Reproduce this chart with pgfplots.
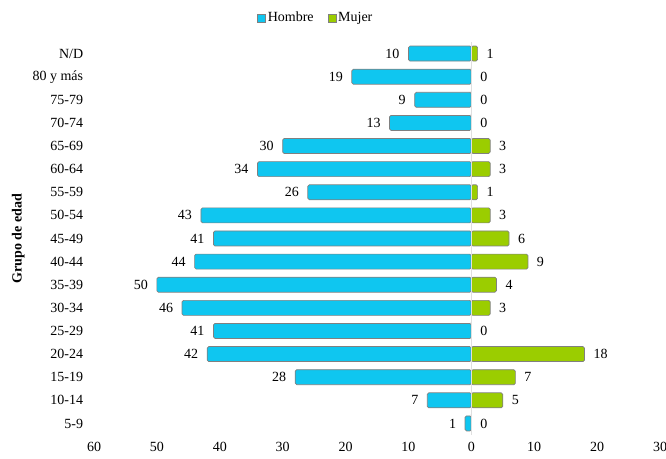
\documentclass[border=0pt]{standalone}
\usepackage{pgfplots}
\pgfplotsset{compat=1.18}
\usepackage{fontspec}
\setmainfont{Liberation Serif}
\definecolor{hcol}{RGB}{15,198,240}
\definecolor{mcol}{RGB}{155,205,0}
\begin{document}
\fontsize{14bp}{16bp}\selectfont
\begin{tikzpicture}
\useasboundingbox (0,0) rectangle (666bp,459bp);
\begin{axis}[
  at={(94bp,24bp)}, anchor=south west,
  scale only axis, width=566bp, height=393bp,
  xbar, bar width=15bp, bar shift=0pt,
  xmin=-60, xmax=30, ymin=-0.5, ymax=16.5,
  xtick={-60,-50,-40,-30,-20,-10,0,10,20,30},
  xticklabel={\pgfmathparse{abs(\tick)}\pgfmathprintnumber{\pgfmathresult}},
  ytick={0,...,16},
  yticklabels={5-9,10-14,15-19,20-24,25-29,30-34,35-39,40-44,45-49,50-54,55-59,60-64,65-69,70-74,75-79,80 y más,N/D},
  /pgf/number format/assume math mode=true,
  axis line style={draw=none}, major tick length=0pt,
  tick label style={font=\fontsize{14bp}{16bp}\selectfont},
  yticklabel style={xshift=-6bp},
  xticklabel style={yshift=-2bp},
  ylabel={\textbf{Grupo de edad}},
  ylabel style={at={(axis description cs:-0.134,0.5)}, anchor=center, font=\fontsize{14bp}{16bp}\selectfont},
  legend style={at={(axis description cs:0.392,1.061)}, anchor=center, draw=none, legend columns=2,
    font=\fontsize{14bp}{16bp}\selectfont, /tikz/every even column/.append style={column sep=12bp}},
  legend image code/.code={\fill[#1, sharp corners, line width=0.5pt] (0bp,-4bp) rectangle (8bp,4bp);},
  nodes near coords,
  point meta=explicit,
  nodes near coords style={font=\fontsize{14bp}{16bp}\selectfont},
  clip=false,
]
\addplot[fill=hcol, draw=black!50, line width=0.7pt, rounded corners=1.5bp,
  nodes near coords style={anchor=east, xshift=-4bp}]
  table[x=x, y=y, meta=v] {
  y x v
  0 -1 1
  1 -7 7
  2 -28 28
  3 -42 42
  4 -41 41
  5 -46 46
  6 -50 50
  7 -44 44
  8 -41 41
  9 -43 43
  10 -26 26
  11 -34 34
  12 -30 30
  13 -13 13
  14 -9 9
  15 -19 19
  16 -10 10
  };
\addlegendentry{Hombre}
\addplot[fill=mcol, draw=black!50, line width=0.7pt, rounded corners=1.5bp,
  nodes near coords style={anchor=west, xshift=4bp}]
  table[x=x, y=y, meta=v] {
  y x v
  0 0 0
  1 5 5
  2 7 7
  3 18 18
  4 0 0
  5 3 3
  6 4 4
  7 9 9
  8 6 6
  9 3 3
  10 1 1
  11 3 3
  12 3 3
  13 0 0
  14 0 0
  15 0 0
  16 1 1
  };
\addlegendentry{Mujer}
\draw[gray!25, line width=1pt] (axis cs:0,-0.5) -- (axis cs:0,16.5);
\end{axis}
\end{tikzpicture}
\end{document}
